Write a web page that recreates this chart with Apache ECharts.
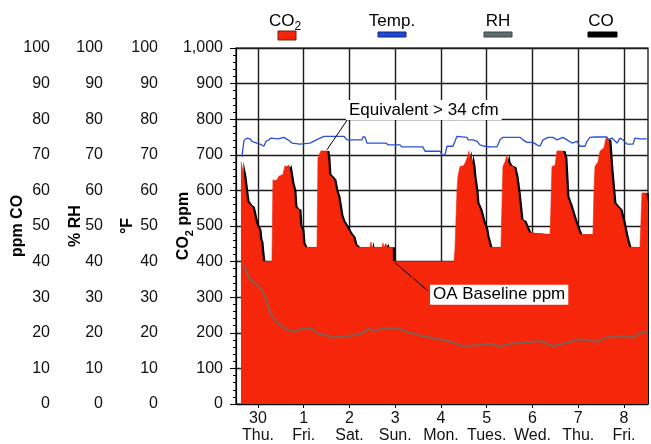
<!DOCTYPE html>
<html>
<head>
<meta charset="utf-8">
<script src="https://cdn.jsdelivr.net/npm/echarts@6/dist/echarts.min.js"></script>
<style>
html,body{margin:0;padding:0;background:#fff;}
#chart{width:651px;height:444px;}
</style>
</head>
<body>
<div id="chart"></div>
<script>
// ---- Data (x = days from "30 Thu.") ----
const dayNums  = ['30', '1', '2', '3', '4', '5', '6', '7', '8'];
const dayNames = ['Thu.', 'Fri.', 'Sat.', 'Sun.', 'Mon.', 'Tues.', 'Wed.', 'Thu.', 'Fri.'];
const dayTicks = [0, 1, 2, 3, 4, 5, 6, 7, 8];

// CO2 ppm [day, ppm]
const co2Points = [
  [-0.372, 681], [-0.306, 640], [-0.240, 570], [-0.175, 558], [-0.131, 555], [-0.109, 546], [-0.087, 546],
  [-0.066, 520], [-0.044, 510], [-0.022, 500], [0.022, 490], [0.044, 462], [0.066, 455], [0.087, 425],
  [0.109, 400], [0.306, 400],
  [0.317, 400], [0.328, 630], [0.393, 625], [0.459, 640], [0.546, 645], [0.590, 669], [0.656, 665],
  [0.678, 672], [0.699, 672], [0.721, 640], [0.743, 621], [0.787, 600], [0.809, 555], [0.852, 548],
  [0.896, 546], [0.918, 500], [0.962, 490], [0.984, 453], [1.027, 440], [1.290, 440],
  [1.301, 440], [1.311, 690], [1.355, 705], [1.377, 711], [1.508, 711], [1.530, 690], [1.552, 645],
  [1.596, 640], [1.661, 630], [1.705, 600], [1.749, 583], [1.814, 530], [1.858, 514], [1.902, 505],
  [1.945, 500], [1.989, 485], [2.033, 476], [2.077, 470], [2.120, 448], [2.186, 440], [2.448, 440],
  [2.470, 455], [2.492, 440], [2.710, 440], [2.732, 452], [2.754, 440], [2.798, 450], [2.820, 440],
  [2.940, 440], [2.951, 400], [4.284, 400],
  [4.295, 400], [4.306, 435], [4.350, 600], [4.372, 640], [4.415, 667], [4.503, 670], [4.568, 690],
  [4.612, 710], [4.634, 680], [4.656, 700], [4.699, 670], [4.721, 640], [4.765, 600], [4.787, 565],
  [4.852, 546], [4.918, 514], [4.984, 490], [5.005, 472], [5.071, 440], [5.311, 440],
  [5.322, 440], [5.333, 560], [5.355, 667], [5.399, 680], [5.443, 700], [5.464, 680], [5.508, 670],
  [5.596, 665], [5.639, 640], [5.683, 600], [5.749, 518], [5.814, 514], [5.858, 500], [5.924, 481],
  [5.967, 476], [6.383, 476],
  [6.393, 509], [6.426, 667], [6.492, 670], [6.536, 711], [6.667, 711], [6.710, 690], [6.754, 583],
  [6.820, 560], [6.863, 555], [6.929, 514], [6.995, 490], [7.038, 476], [7.322, 476],
  [7.333, 476], [7.344, 600], [7.366, 667], [7.432, 680], [7.475, 710], [7.563, 720], [7.607, 747],
  [7.672, 740], [7.716, 658], [7.781, 565], [7.847, 555], [7.913, 546], [7.978, 514], [8.044, 472],
  [8.109, 440], [8.350, 440], [8.372, 514], [8.393, 593], [8.481, 593], [8.525, 565]
];

// Temperature °F [day, °F]
const tempPoints = [
  [-0.35, 69.5], [-0.306, 74.0], [-0.240, 74.7], [-0.175, 74.5], [-0.131, 73.8], [-0.022, 73.3],
  [0.044, 73.0], [0.131, 72.4], [0.175, 73.8], [0.240, 74.2], [0.284, 74.7], [0.437, 74.5],
  [0.568, 74.9], [0.678, 74.0], [0.743, 73.3], [0.918, 73.0], [1.137, 73.3], [1.246, 74.0],
  [1.311, 74.4], [1.443, 75.2], [1.880, 75.2], [1.945, 74.2], [2.273, 74.2], [2.295, 75.0],
  [2.339, 75.0], [2.361, 74.2], [2.383, 73.3], [2.798, 73.3], [2.842, 72.8], [3.104, 72.8],
  [3.148, 72.2], [3.607, 72.2], [3.650, 71.0], [3.978, 71.0], [4.022, 70.0], [4.087, 70.0],
  [4.131, 72.4], [4.262, 72.4], [4.350, 75.2], [4.372, 74.9], [4.568, 74.9], [4.590, 74.2],
  [4.699, 74.2], [4.787, 73.8], [4.852, 72.8], [4.962, 72.4], [5.071, 72.2], [5.224, 72.2],
  [5.290, 74.2], [5.355, 74.9], [5.727, 74.9], [5.792, 74.2], [5.880, 73.5], [6.011, 73.5],
  [6.098, 72.8], [6.164, 72.4], [6.230, 74.2], [6.339, 74.9], [6.448, 74.9], [6.536, 74.2],
  [6.667, 74.9], [6.754, 74.2], [6.863, 73.3], [6.973, 73.8], [7.038, 72.4], [7.148, 72.4],
  [7.191, 73.8], [7.257, 74.9], [7.366, 75.0], [7.628, 75.0], [7.650, 74.2], [7.738, 74.7],
  [7.847, 73.3], [7.913, 74.7], [7.978, 74.2], [8.066, 73.0], [8.197, 73.0], [8.240, 74.7],
  [8.350, 74.5], [8.503, 74.5]
];

// Relative humidity % [day, %RH]
const rhPoints = [
  [-0.328, 39.2], [-0.175, 35.0], [0.044, 32.7], [0.153, 30.3], [0.262, 25.7], [0.415, 22.9],
  [0.590, 21.2], [0.765, 20.3], [0.918, 21.0], [1.180, 21.2], [1.290, 19.9], [1.421, 19.6],
  [1.639, 18.7], [1.858, 18.9], [2.077, 19.3], [2.295, 19.9], [2.404, 21.2], [2.514, 20.5],
  [2.732, 21.2], [3.038, 21.2], [3.322, 20.1], [3.607, 19.0], [3.978, 18.2], [4.262, 17.3],
  [4.481, 16.3], [4.787, 16.5], [5.071, 16.9], [5.290, 16.2], [5.508, 16.9], [5.792, 17.3],
  [6.164, 17.7], [6.448, 16.3], [6.667, 17.0], [7.038, 18.2], [7.410, 17.5], [7.628, 18.7],
  [7.978, 19.0], [8.240, 18.7], [8.306, 19.6], [8.525, 20.5]
];

// Annotations [day, ppm]
const equivLine = [[1.508, 714], [1.967, 801]];
const equivLabelAt = [1.923, 826];
const baseLine = [[2.995, 397], [3.722, 317]];
const baseLabelAt = [3.760, 307];

// ---- Chart ----
const FONT = 'Liberation Sans, Arial, Helvetica, sans-serif';
const chart = echarts.init(document.getElementById('chart'), null, {renderer: 'canvas'});

function sideAxis(name, offset, gap) {
  return {
    type: 'value', position: 'left', offset: offset, min: 0, max: 100, interval: 10,
    name: name, nameLocation: 'middle', nameGap: gap, nameRotate: 90, nameMoveOverlap: false,
    nameTextStyle: {fontFamily: FONT, fontSize: 16, fontWeight: 'bold', color: '#000'},
    axisLine: {show: false, onZero: false}, axisTick: {show: false}, splitLine: {show: false},
    axisLabel: {fontFamily: FONT, fontSize: 16, color: '#111', margin: 8}
  };
}

const option = {
  animation: false,
  backgroundColor: '#fff',
  grid: {left: 236, right: 3, top: 48, bottom: 39, show: true, borderColor: '#000', borderWidth: 1.2},
  xAxis: {
    type: 'value', min: -0.48, max: 8.525,
    axisLine: {show: true, onZero: false, lineStyle: {color: '#000', width: 1.2}},
    axisTick: {show: true, customValues: dayTicks, length: 4, lineStyle: {color: '#000'}},
    axisLabel: {
      customValues: dayTicks, fontFamily: FONT, fontSize: 16, color: '#111', margin: 6, lineHeight: 17,
      formatter: v => { const i = Math.round(v); return dayNums[i] + '\n' + dayNames[i]; }
    },
    splitLine: {show: true, lineStyle: {color: '#1a1a1a', width: 1.4}}
  },
  yAxis: [
    {
      type: 'value', position: 'left', min: 0, max: 1000, interval: 100,
      name: '{b|CO}{s|2}{b| ppm}', nameLocation: 'middle', nameGap: 41, nameRotate: 90, nameMoveOverlap: false,
      nameTextStyle: {
        color: '#000',
        rich: {
          b: {fontFamily: FONT, fontSize: 16, fontWeight: 'bold', lineHeight: 22, verticalAlign: 'middle', color: '#000'},
          s: {fontFamily: FONT, fontSize: 11, fontWeight: 'bold', lineHeight: 22, verticalAlign: 'bottom', color: '#000'}
        }
      },
      axisLine: {show: true, onZero: false, lineStyle: {color: '#000', width: 1.2}},
      axisTick: {show: true, length: 6, lineStyle: {color: '#000'}},
      minorTick: {show: true, splitNumber: 5, length: 3, lineStyle: {color: '#000'}},
      axisLabel: {fontFamily: FONT, fontSize: 16, color: '#111', margin: 13},
      splitLine: {show: true, lineStyle: {color: '#1a1a1a', width: 1.4}}
    },
    sideAxis('°F', 70, 30),
    sideAxis('% RH', 125, 27),
    sideAxis('ppm CO', 178, 32)
  ],
  series: [
    {
      name: 'CO2', type: 'line', xAxisIndex: 0, yAxisIndex: 0, data: co2Points,
      symbol: 'none', showSymbol: false, z: 2,
      lineStyle: {width: 0.6, color: '#f5260a'},
      areaStyle: {color: '#f5260a', opacity: 1, shadowColor: '#000', shadowOffsetX: 2.5, shadowOffsetY: 0, shadowBlur: 0},
      markLine: {
        silent: true, symbol: ['none', 'none'], animation: false,
        lineStyle: {color: '#000', width: 1, type: 'solid'},
        label: {show: false},
        data: [
          [{coord: equivLine[0]}, {coord: equivLine[1]}],
          [{coord: baseLine[0]}, {coord: baseLine[1]}]
        ]
      },
      markPoint: {
        silent: true, symbol: 'circle', symbolSize: 0, animation: false,
        label: {
          show: true, position: 'right', distance: 0, color: '#000', fontFamily: FONT, fontSize: 17,
          backgroundColor: '#fff', padding: [2, 3, 1, 3], formatter: p => p.name
        },
        data: [
          {name: 'Equivalent > 34 cfm', coord: equivLabelAt},
          {name: 'OA Baseline ppm', coord: baseLabelAt}
        ]
      }
    },
    {
      name: 'Temp.', type: 'line', xAxisIndex: 0, yAxisIndex: 1, data: tempPoints,
      symbol: 'none', z: 3, lineStyle: {color: '#2a50d8', width: 1.3}
    },
    {
      name: 'RH', type: 'line', xAxisIndex: 0, yAxisIndex: 2, data: rhPoints,
      symbol: 'none', z: 3, lineStyle: {color: '#6e6a60', width: 2, opacity: 0.85}
    }
  ],
  graphic: [
    {type: 'text', x: 285, y: 21, z: 10, style: {
      text: '{a|CO}{s|2}', align: 'center', verticalAlign: 'middle',
      rich: {a: {fontFamily: FONT, fontSize: 17, fill: '#000', lineHeight: 24, verticalAlign: 'middle'},
             s: {fontFamily: FONT, fontSize: 12, fill: '#000', lineHeight: 24, verticalAlign: 'bottom'}}
    }},
    {type: 'rect', z: 10, shape: {x: 278, y: 31, width: 18, height: 9}, style: {fill: '#f5260a', stroke: '#7a1e0e', lineWidth: 1}},
    {type: 'text', x: 392, y: 21, z: 10, style: {text: 'Temp.', fontFamily: FONT, fontSize: 17, fill: '#000', align: 'center', verticalAlign: 'middle'}},
    {type: 'rect', z: 10, shape: {x: 378, y: 32, width: 28, height: 5}, style: {fill: '#1f48d6', stroke: '#10287a', lineWidth: 1}},
    {type: 'text', x: 498, y: 21, z: 10, style: {text: 'RH', fontFamily: FONT, fontSize: 17, fill: '#000', align: 'center', verticalAlign: 'middle'}},
    {type: 'rect', z: 10, shape: {x: 484, y: 32, width: 28, height: 5}, style: {fill: '#5e6e6e', stroke: '#3a4444', lineWidth: 1}},
    {type: 'text', x: 601, y: 21, z: 10, style: {text: 'CO', fontFamily: FONT, fontSize: 17, fill: '#000', align: 'center', verticalAlign: 'middle'}},
    {type: 'rect', z: 10, shape: {x: 588, y: 32, width: 29, height: 5}, style: {fill: '#000', stroke: '#000', lineWidth: 1}}
  ]
};
chart.setOption(option);
</script>
</body>
</html>
